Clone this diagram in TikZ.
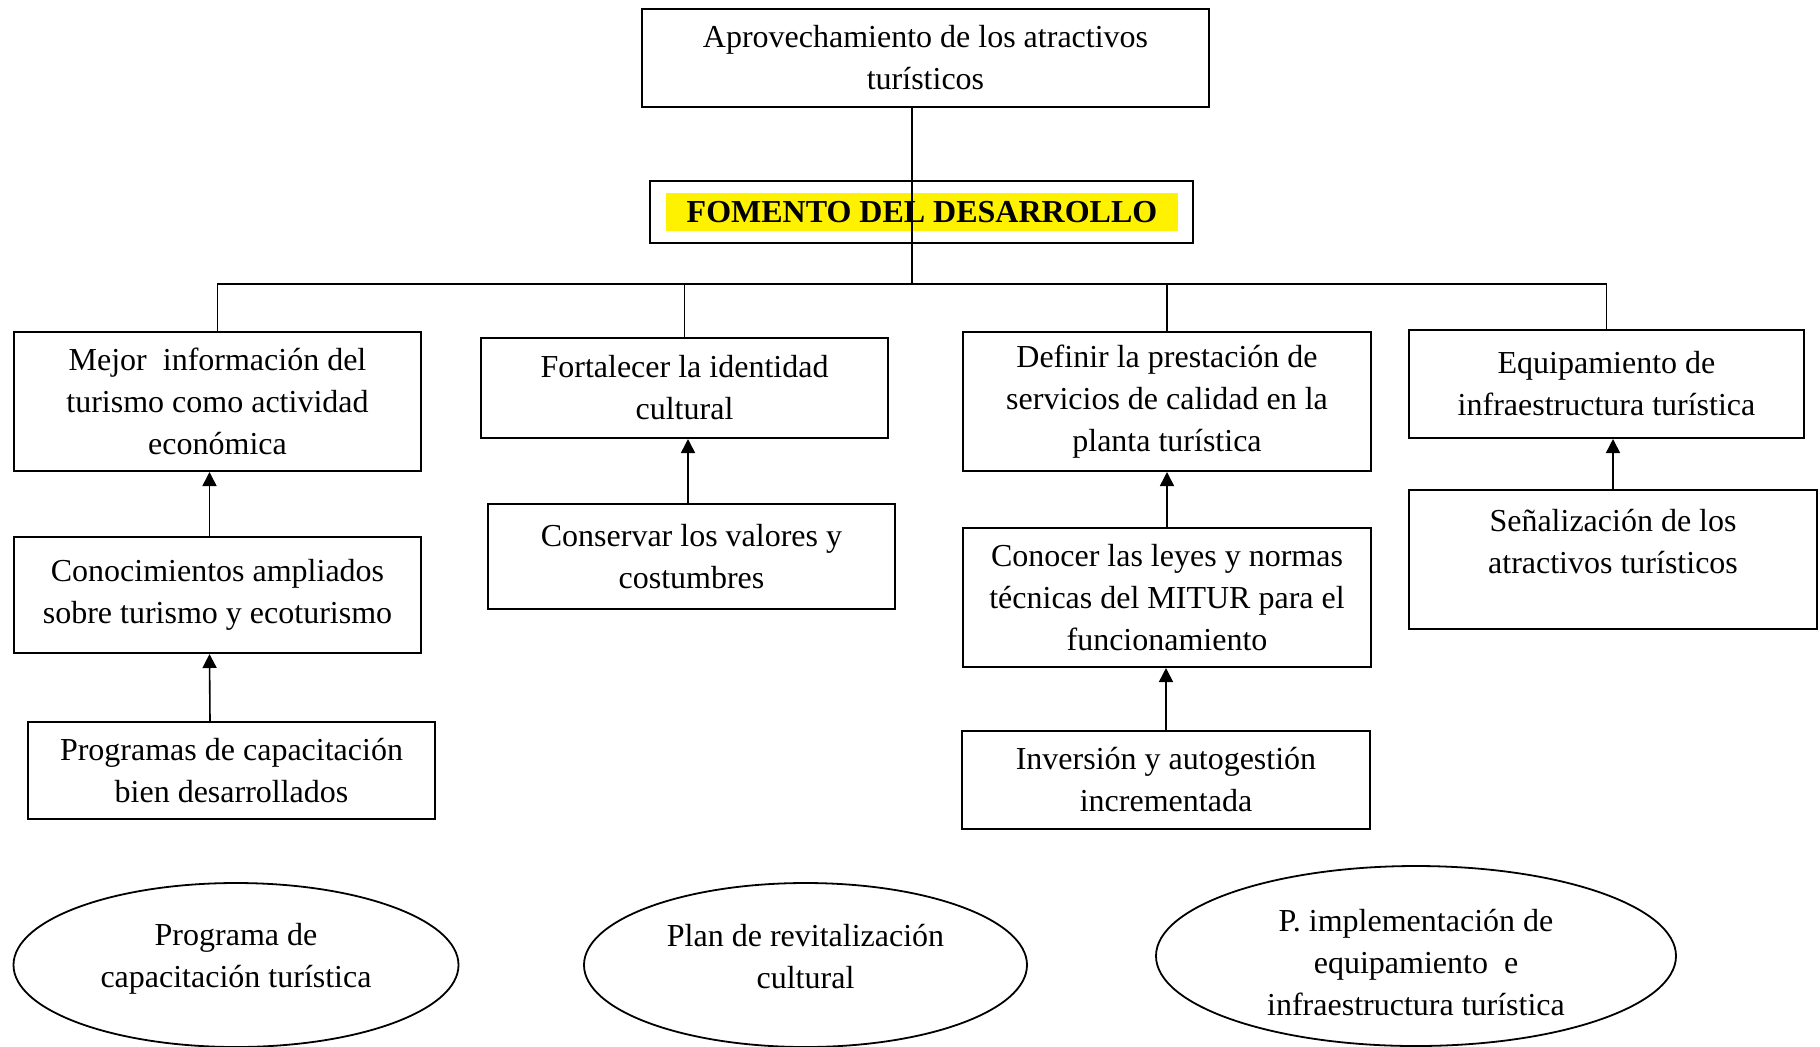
\documentclass[tikz,border=0pt]{standalone}
\usepackage{fontspec}
\setmainfont{Liberation Serif}
\usetikzlibrary{arrows.meta,shapes.geometric}

\begin{document}
\begin{tikzpicture}[x=0.5pt,y=-0.5pt,>={Triangle[length=7pt,width=7pt]},
  every node/.style={font=\fontsize{16}{21}\selectfont,align=center,inner sep=0pt},
  box/.style={draw,line width=1pt},
  oval/.style={draw,ellipse,line width=0.9pt},
  link/.style={line width=0.8pt}]
\useasboundingbox (0,0) rectangle (1820,1046);
\clip (0,0) rectangle (1820,1046);
\node[box,minimum width=283.5pt,minimum height=49pt] (top) at (925.5,58) {Aprovechamiento de los atractivos\\turísticos};
\node[box,minimum width=271.5pt,minimum height=31pt] (fom) at (921.5,212) {};
\node[fill=yellow,minimum width=256pt,minimum height=19pt,font=\fontsize{16}{21}\selectfont\bfseries] (fomtx) at (922,212) {FOMENTO DEL DESARROLLO};
\node[box,minimum width=203.5pt,minimum height=69.5pt] (b1) at (217.5,401.5) {Mejor~ información del\\turismo como actividad\\económica};
\node[box,minimum width=203.5pt,minimum height=50pt] (b2) at (684.5,388) {Fortalecer la identidad\\cultural};
\node[box,minimum width=204pt,minimum height=69.5pt] (b3) at (1167,401.5) {Definir la prestación de\\servicios de calidad en la\\planta turística};
\node[box,minimum width=197.5pt,minimum height=54pt] (b4) at (1606.5,384) {Equipamiento de\\infraestructura turística};
\node[box,minimum width=203.5pt,minimum height=58pt] (c1) at (217.5,595) {Conocimientos ampliados\\sobre turismo y ecoturismo};
\node[box,minimum width=203.5pt,minimum height=52.5pt] (c2) at (691.5,556.5) {Conservar los valores y\\costumbres};
\node[box,minimum width=204pt,minimum height=69.5pt] (c3) at (1167,597.5) {Conocer las leyes y normas\\técnicas del MITUR para el\\funcionamiento};
\node[box,minimum width=204pt,minimum height=69.5pt,label={[yshift=9pt]center:Señalización de los\\atractivos turísticos}] (c4) at (1613,559.5) {};
\node[box,minimum width=203.5pt,minimum height=48.5pt] (d1) at (231.5,770.5) {Programas de capacitación\\bien desarrollados};
\node[box,minimum width=204pt,minimum height=49pt] (d3) at (1166,780) {Inversión y autogestión\\incrementada};
\node[oval,minimum width=222.5pt,minimum height=82pt,label={[yshift=3pt]center:Programa de\\capacitación turística}] (e1) at (236,965) {};
\node[oval,minimum width=221.5pt,minimum height=82pt,label={[yshift=4pt]center:Plan de revitalización\\cultural}] (e2) at (805.5,965) {};
\node[oval,minimum width=260pt,minimum height=90pt,label={[yshift=-3.5pt]center:P. implementación de\\equipamiento~ e\\infraestructura turística}] (e3) at (1416,956) {};
\coordinate (hub) at (912,284);
\draw[link] (top.south -| hub) -- (hub);
\draw[link] (b1.north) |- (hub) -| (b4.north);
\draw[link] (b2.north) -- (b2.north |- hub);
\draw[link] (b3.north) -- (b3.north |- hub);
\draw[link,->] ([xshift=-4pt]c1.north) -- ([xshift=-4pt]b1.south);
\draw[link,->] ([xshift=-10.75pt]d1.north) -- ([xshift=-4pt]c1.south);
\draw[link,->] ([xshift=-1.75pt]c2.north) -- ([xshift=1.75pt]b2.south);
\draw[link,->] (c3.north) -- (b3.south);
\draw[link,->] (d3.north) -- (d3.north |- c3.south);
\draw[link,->] (c4.north) -- (c4.north |- b4.south);
\end{tikzpicture}
\end{document}
